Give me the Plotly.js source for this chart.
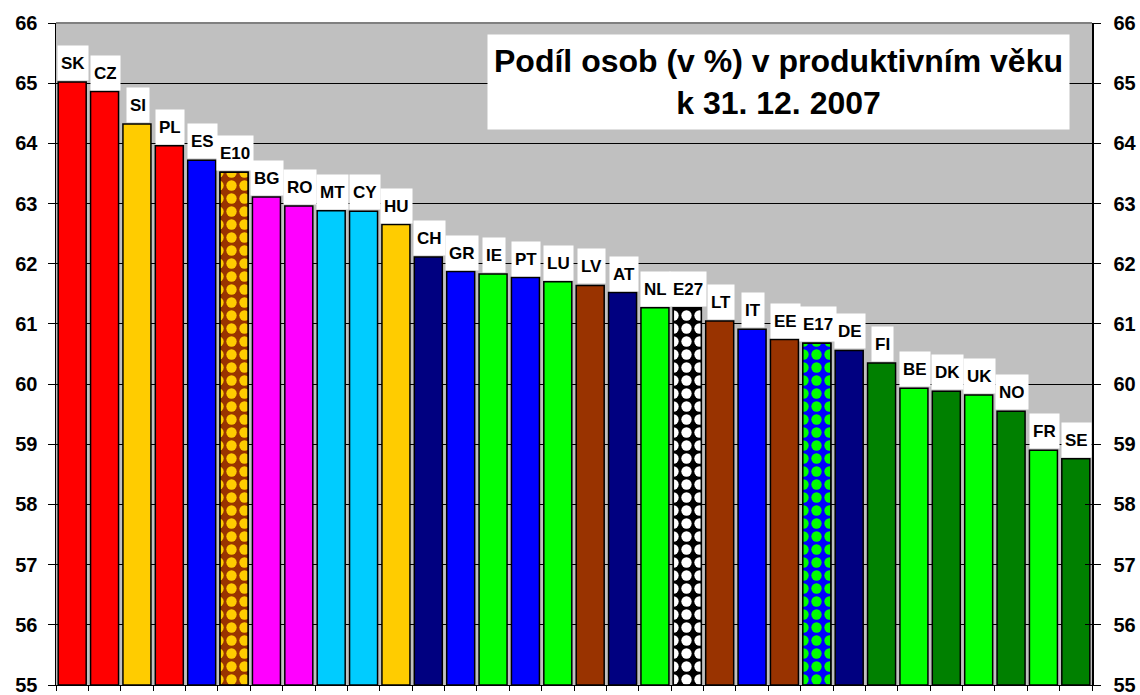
<!DOCTYPE html>
<html>
<head>
<meta charset="utf-8">
<script src="https://cdn.plot.ly/plotly-3.0.1.min.js"></script>
<style>
html,body{margin:0;padding:0;background:#fff;}
#chart{width:1140px;height:695px;}
</style>
</head>
<body>
<div id="chart"></div>
<script>
const categories = ['SK','CZ','SI','PL','ES','E10','BG','RO','MT','CY','HU','CH','GR','IE','PT','LU','LV','AT','NL','E27','LT','IT','EE','E17','DE','FI','BE','DK','UK','NO','FR','SE'];
const values = [65.02,64.86,64.32,63.96,63.72,63.52,63.11,62.96,62.88,62.87,62.65,62.11,61.87,61.83,61.77,61.70,61.64,61.52,61.27,61.27,61.05,60.91,60.74,60.68,60.56,60.35,59.93,59.88,59.82,59.55,58.90,58.76];
const barColors = ['#FF0000','#FF0000','#FFCC00','#FF0000','#0000FF','#993300','#FF00FF','#FF00FF','#00CCFF','#00CCFF','#FFCC00','#000080','#0000FF','#00FF00','#0000FF','#00FF00','#993300','#000080','#00FF00','#000000','#993300','#0000FF','#993300','#0000FF','#000080','#008000','#00FF00','#008000','#00FF00','#008000','#00FF00','#008000'];
// patterned aggregates: category, background colour, diamond colour
const patternCats = ['E10','E27','E17'];
const patternBg = ['#993300','#000000','#0000FF'];
const patternFg = ['#FFCC00','#FFFFFF','#00FF00'];
const yTicks = [55,56,57,58,59,60,61,62,63,64,65,66];
const titleText = 'Podíl osob (v %) v produktivním věku<br>k 31. 12. 2007';

const FONT = 'Liberation Sans, Arial, sans-serif';

const traces = [{
  type: 'bar',
  x: categories,
  y: values.map(v => v - 55),
  base: 55,
  marker: {color: barColors, line: {color: '#000000', width: 1.5}},
  hoverinfo: 'x+y'
}];
patternCats.forEach((pc, k) => {
  traces.push({
    type: 'bar',
    x: categories,
    y: categories.map((c, i) => c === pc ? values[i] - 55 : null),
    base: 55,
    marker: {
      color: patternBg[k],
      line: {color: '#000000', width: 1.5},
      pattern: {shape: '.', fgcolor: patternFg[k], bgcolor: patternBg[k], fgopacity: 1, size: 13, solidity: 0.5, fillmode: 'overlay'}
    },
    hoverinfo: 'x+y'
  });
});

const annotations = categories.map((c, i) => ({
  x: c, y: values[i], xref: 'x', yref: 'y',
  text: '<b>' + c + '</b>',
  showarrow: false,
  yanchor: 'bottom', xanchor: 'center',
  yshift: 1, xshift: 1,
  bgcolor: '#FFFFFF',
  height: 28, borderpad: 3,
  font: {family: FONT, size: 17, color: '#000000'}
}));
annotations.push({
  xref: 'paper', yref: 'paper',
  x: (778.5 - 56) / 1036, y: (685 - 82) / 662,
  xanchor: 'center', yanchor: 'middle',
  text: '<b>' + titleText + '</b>',
  showarrow: false,
  bgcolor: '#FFFFFF',
  width: 579, height: 92, borderpad: 1,
  align: 'center',
  font: {family: FONT, size: 32, color: '#000000'}
});

const layout = {
  width: 1140, height: 695,
  margin: {l: 56, r: 48, t: 23, b: 10, pad: 0, autoexpand: false},
  paper_bgcolor: '#FFFFFF',
  plot_bgcolor: '#C0C0C0',
  showlegend: false,
  barmode: 'overlay',
  bargap: 0.135,
  xaxis: {
    type: 'category', automargin: false,
    range: [-0.5, categories.length - 0.5],
    showticklabels: false,
    ticks: 'outside', ticklen: 5, tickcolor: '#000', tickwidth: 1,
    tickson: 'boundaries',
    showline: true, linecolor: '#000', linewidth: 1,
    showgrid: false, zeroline: false, fixedrange: true
  },
  yaxis: {
    range: [55, 66], tickvals: yTicks, ticktext: yTicks.map(String), automargin: false,
    ticklabeloverflow: 'allow',
    ticks: 'outside', ticklen: 7, tickcolor: '#000', tickwidth: 1,
    showline: true, linecolor: '#000', linewidth: 1.5,
    showgrid: true, gridcolor: '#000000', gridwidth: 1,
    zeroline: false,
    tickfont: {family: FONT, size: 20, color: '#000', weight: 'bold'},
    ticklabelstandoff: 6
  },
  yaxis2: {
    overlaying: 'y', side: 'right', anchor: 'x', automargin: false,
    ticklabeloverflow: 'allow',
    range: [55, 66], tickvals: yTicks, ticktext: yTicks.map(String),
    ticks: 'outside', ticklen: 7, tickcolor: '#000', tickwidth: 1,
    showline: true, linecolor: '#000', linewidth: 1.5,
    showgrid: false, zeroline: false,
    tickfont: {family: FONT, size: 20, color: '#000', weight: 'bold'},
    ticklabelstandoff: 9
  },
  yaxis3: {
    overlaying: 'y', side: 'right', anchor: 'x', automargin: false,
    range: [55, 66], tickvals: yTicks,
    ticks: 'inside', ticklen: 7, tickcolor: '#000', tickwidth: 1,
    showticklabels: false, showline: false, showgrid: false, zeroline: false
  },
  shapes: [{
    type: 'line', xref: 'paper', yref: 'paper', x0: 0, x1: 1, y0: 1, y1: 1,
    line: {color: '#808080', width: 2}
  }],
  annotations: annotations
};

traces.push({type: 'scatter', mode: 'none', x: [categories[0]], y: [null], yaxis: 'y2', hoverinfo: 'skip', showlegend: false});
traces.push({type: 'scatter', mode: 'none', x: [categories[0]], y: [null], yaxis: 'y3', hoverinfo: 'skip', showlegend: false});

Plotly.newPlot('chart', traces, layout, {displayModeBar: false, staticPlot: true});
</script>
</body>
</html>
